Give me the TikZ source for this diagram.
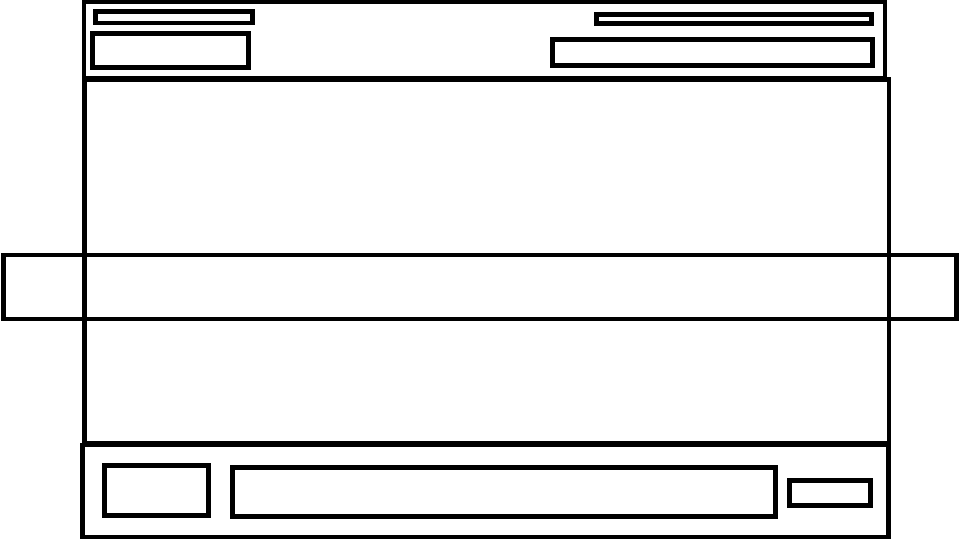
\documentclass[tikz,border=0pt]{standalone}
\begin{document}
\begin{tikzpicture}[x=0.75pt,y=-0.75pt,
  frame/.style={draw=black,line width=3.6pt,line join=miter}]
\useasboundingbox[fill=white] (0,0) rectangle (960,540);
% header
\draw[frame] (84,2) rectangle (885,78);
\draw[frame] (95.5,11.5) rectangle (252.5,23);
\draw[frame] (92.5,33.5) rectangle (248.5,67.5);
\draw[frame] (596.5,14.5) rectangle (871.5,23.5);
\draw[frame] (552.5,39.5) rectangle (872.5,65.5);
% main
\draw[frame] (84.5,79.5) rectangle (889,443);
% band
\draw[frame] (3.5,255) rectangle (956.5,319);
\draw[frame] (84.5,250) -- (84.5,324);
\draw[frame] (889,250) -- (889,324);
% footer
\draw[frame] (82.5,445) rectangle (888.5,537);
\draw[frame] (104.5,465.5) rectangle (208.5,515.5);
\draw[frame] (232.5,467.5) rectangle (775.5,516.5);
\draw[frame] (789.5,480.5) rectangle (870.5,505.5);
\end{tikzpicture}
\end{document}
